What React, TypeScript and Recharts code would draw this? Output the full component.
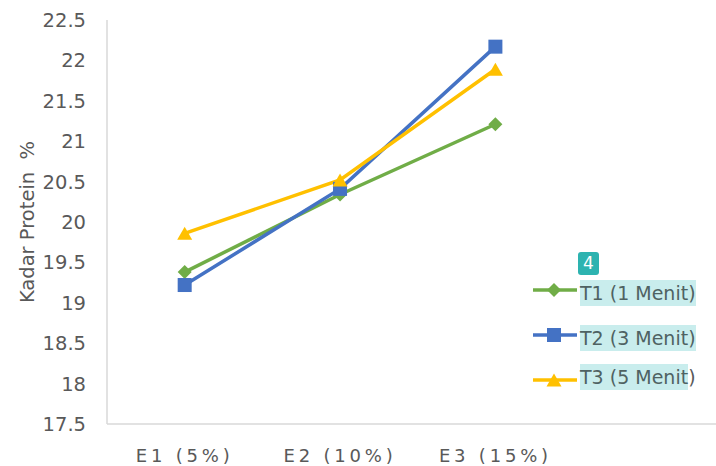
import React from 'react';
import { LineChart, Line, XAxis, YAxis } from 'recharts';

const categories = ['E1 (5%)', 'E2 (10%)', 'E3 (15%)'];
const t1Values = [19.38, 20.34, 21.21];
const t2Values = [19.22, 20.41, 22.17];
const t3Values = [19.86, 20.52, 21.89];
const yTicks = [17.5, 18, 18.5, 19, 19.5, 20, 20.5, 21, 21.5, 22, 22.5];
const seriesNames = ['T1 (1 Menit)', 'T2 (3 Menit)', 'T3 (5 Menit)'];
const xPositions = [1, 2, 3];

const data = categories.map((c, i) => ({
  x: xPositions[i],
  cat: c,
  T1: t1Values[i],
  T2: t2Values[i],
  T3: t3Values[i],
}));

const FONT = '"DejaVu Sans", Verdana, sans-serif';
const AXIS_COLOR = '#d9d9d9';
const TEXT_COLOR = '#595959';
const HIGHLIGHT = '#c9eded';

type Shape = 'diamond' | 'square' | 'triangle';

const series: { key: string; name: string; color: string; shape: Shape }[] = [
  { key: 'T1', name: seriesNames[0], color: '#70ad47', shape: 'diamond' },
  { key: 'T2', name: seriesNames[1], color: '#4472c4', shape: 'square' },
  { key: 'T3', name: seriesNames[2], color: '#ffc000', shape: 'triangle' },
];

function Marker({ cx, cy, shape, color }: { cx: number; cy: number; shape: Shape; color: string }) {
  if (shape === 'diamond') {
    const r = 7;
    return <polygon points={`${cx},${cy - r} ${cx + r},${cy} ${cx},${cy + r} ${cx - r},${cy}`} fill={color} />;
  }
  if (shape === 'square') {
    const s = 7;
    return <rect x={cx - s} y={cy - s} width={s * 2} height={s * 2} fill={color} />;
  }
  const w = 7.5;
  const h = 6.5;
  return <polygon points={`${cx},${cy - h} ${cx + w},${cy + h} ${cx - w},${cy + h}`} fill={color} />;
}

const makeDot = (shape: Shape, color: string) => (p: any) => {
  if (p.cx == null || p.cy == null) return <g key={`n-${p.index}`} />;
  return (
    <g key={`d-${shape}-${p.index}`}>
      <Marker cx={p.cx} cy={p.cy} shape={shape} color={color} />
    </g>
  );
};

function CustomLegend() {
  return (
    <div style={{ position: 'absolute', left: 533, top: 250, width: 183, height: 150, fontFamily: FONT }}>
      <div
        style={{
          position: 'absolute',
          left: 45,
          top: 2,
          width: 21,
          height: 23,
          borderRadius: 3,
          background: '#2db3b0',
          color: '#ffffff',
          fontSize: 17,
          lineHeight: '23px',
          textAlign: 'center',
        }}
      >
        4
      </div>
      {series.map((s, i) => {
        const full = s.name;
        const highlighted = i === 2 ? full.slice(0, full.length - 1) : full;
        const rest = i === 2 ? full.slice(full.length - 1) : '';
        return (
          <div key={s.key}>
            <svg
              width={46}
              height={20}
              style={{ position: 'absolute', left: 0, top: 30 + 45 * i, overflow: 'visible' }}
            >
              <line x1={0} y1={10} x2={44} y2={10} stroke={s.color} strokeWidth={3.5} />
              <Marker cx={21} cy={10} shape={s.shape} color={s.color} />
            </svg>
            <div
              style={{
                position: 'absolute',
                left: 47,
                top: 24 + 45 * i,
                height: 26,
                lineHeight: '26px',
                fontSize: 19,
                color: TEXT_COLOR,
                whiteSpace: 'pre',
              }}
            >
              <span style={{ background: HIGHLIGHT, display: 'inline-block', height: 26, color: '#4f6262' }}>
                {highlighted}
              </span>
              <span style={{ display: 'inline-block', height: 26 }}>{rest}</span>
            </div>
          </div>
        );
      })}
    </div>
  );
}

const YLabel = (props: any) => {
  const vb = props.viewBox || { x: 0, y: 20, width: 107, height: 404 };
  const cx = 27;
  const cy = vb.y + vb.height / 2;
  return (
    <text
      x={cx}
      y={cy}
      transform={`rotate(-90, ${cx}, ${cy})`}
      textAnchor="middle"
      dominantBaseline="central"
      fill={TEXT_COLOR}
      fontSize={19.5}
      fontFamily={FONT}
      style={{ whiteSpace: 'pre' }}
    >
      Kadar Protein  %
    </text>
  );
};

export default function App() {
  return (
    <div style={{ position: 'absolute', left: 0, top: 0, width: 716, height: 466, background: '#ffffff' }}>
      <LineChart width={716} height={466} data={data} margin={{ top: 20, right: 0, bottom: 0, left: 0 }}>
        <XAxis
          dataKey="x"
          type="number"
          domain={[0.5, 4.42]}
          ticks={xPositions}
          interval={0}
          tickFormatter={(v: number) => categories[v - 1] ?? ''}
          axisLine={{ stroke: AXIS_COLOR, strokeWidth: 1.5 }}
          tickLine={false}
          tickSize={0}
          tickMargin={25}
          height={42}
          tick={{ fontSize: 18, fill: TEXT_COLOR, fontFamily: FONT, letterSpacing: 3.8 }}
          allowDataOverflow
        />
        <YAxis
          type="number"
          domain={[17.5, 22.5]}
          ticks={yTicks}
          interval={0}
          width={107}
          axisLine={{ stroke: AXIS_COLOR, strokeWidth: 1.5 }}
          tickLine={false}
          tickSize={0}
          tickMargin={21}
          tick={{ fontSize: 19.5, fill: TEXT_COLOR, fontFamily: FONT }}
          label={{ content: YLabel }}
        />
        {series.map((s) => (
          <Line
            key={s.key}
            type="linear"
            dataKey={s.key}
            name={s.name}
            stroke={s.color}
            strokeWidth={3.5}
            dot={makeDot(s.shape, s.color)}
            activeDot={false}
            isAnimationActive={false}
          />
        ))}
      </LineChart>
      <CustomLegend />
    </div>
  );
}
